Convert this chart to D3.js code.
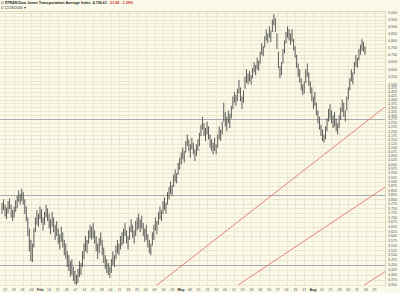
<!DOCTYPE html>
<head>
<meta charset="utf-8">
<title>$TRAN</title>
<style>
  body { margin: 0; background: #fbfaea; }
  svg { display: block; }
  .ylbl, .xlbl { font: 3.6px "Liberation Sans", Arial, sans-serif; fill: #555; }
  .xlbl.bold { font-weight: bold; fill: #222; }
  .ttl { font: bold 3.7px "Liberation Sans", Arial, sans-serif; fill: #222; }
  .ttl2 { font: 3.6px "Liberation Sans", Arial, sans-serif; fill: #333; }
  .neg { fill: #d23030; }
  .grid line { stroke: #ece8d0; stroke-width: 1; shape-rendering: crispEdges; }
  .bar { stroke: #4a4a4a; stroke-width: 0.9; }
  .level { stroke: #aaa; stroke-width: 1; shape-rendering: crispEdges; }
  .trend { stroke: #e27474; stroke-width: 0.9; fill: none; }
</style>
</head>
<body>
<script src="https://d3js.org/d3.v7.min.js"></script>
<script>

// daily bars, high and low (index points)
var highs = [
  3780,3800,3770,3755,3790,3805,3770,3740,3760,3795,
  3820,3850,3830,3860,3840,3800,3760,3700,3640,3580,
  3560,3640,3700,3740,3720,3760,3745,3700,3730,3770,
  3750,3720,3690,3730,3700,3660,3680,3640,3610,3650,
  3620,3580,3560,3520,3500,3470,3480,3440,3420,3400,
  3430,3470,3460,3520,3560,3600,3580,3630,3660,3650,
  3670,3630,3600,3560,3590,3620,3580,3540,3500,3480,
  3460,3440,3480,3520,3500,3550,3580,3560,3600,3620,
  3640,3670,3630,3600,3650,3690,3660,3630,3680,3700,
  3720,3690,3710,3670,3640,3660,3610,3580,3560,3620,
  3660,3700,3680,3730,3760,3740,3790,3810,3780,3840,
  3870,3900,3880,3940,3970,3950,4010,4040,4070,4100,
  4080,4140,4180,4150,4120,4160,4130,4090,4120,4150,
  4190,4240,4290,4250,4220,4260,4230,4180,4150,4130,
  4160,4120,4180,4230,4210,4260,4380,4320,4290,4330,
  4310,4360,4420,4450,4430,4470,4530,4480,4420,4460,
  4550,4600,4570,4590,4560,4610,4650,4630,4680,4660,
  4720,4780,4760,4830,4880,4850,4900,4870,4950,4990,
  4960,4850,4720,4620,4650,4740,4800,4860,4900,4880,
  4850,4880,4810,4760,4700,4640,4600,4540,4500,4520,
  4600,4640,4580,4520,4480,4420,4450,4380,4330,4290,
  4240,4210,4180,4230,4280,4340,4370,4330,4300,4320,
  4280,4250,4300,4350,4400,4380,4330,4420,4480,4540,
  4600,4580,4650,4700,4680,4740,4770,4810,4790,4760
];
var lows = [
  3720,3740,3705,3690,3720,3745,3700,3680,3700,3730,
  3750,3785,3770,3790,3770,3720,3680,3600,3520,3470,
  3465,3540,3620,3660,3650,3690,3670,3630,3660,3700,
  3680,3640,3610,3650,3620,3580,3600,3560,3530,3570,
  3540,3500,3480,3440,3420,3390,3400,3370,3355,3350,
  3360,3390,3400,3440,3480,3520,3510,3560,3590,3580,
  3590,3560,3520,3480,3510,3550,3500,3460,3430,3410,
  3400,3385,3410,3450,3440,3480,3510,3500,3530,3550,
  3560,3600,3560,3530,3580,3620,3590,3560,3600,3630,
  3640,3620,3640,3600,3570,3580,3540,3510,3500,3550,
  3580,3630,3610,3660,3690,3680,3720,3740,3720,3770,
  3800,3830,3820,3870,3900,3890,3940,3970,4000,4030,
  4010,4070,4110,4080,4040,4090,4060,4020,4050,4080,
  4110,4170,4210,4170,4140,4180,4150,4100,4080,4060,
  4080,4060,4100,4150,4140,4180,4260,4230,4200,4250,
  4220,4280,4340,4380,4360,4390,4440,4390,4340,4380,
  4470,4510,4500,4520,4500,4540,4580,4560,4600,4590,
  4640,4700,4690,4750,4800,4780,4820,4790,4860,4910,
  4860,4740,4610,4540,4560,4640,4710,4780,4820,4800,
  4770,4790,4730,4680,4610,4550,4510,4460,4430,4440,
  4510,4550,4490,4440,4390,4340,4360,4300,4250,4210,
  4170,4140,4130,4150,4200,4260,4280,4250,4220,4230,
  4200,4180,4220,4270,4320,4290,4260,4330,4400,4460,
  4520,4500,4570,4620,4610,4660,4700,4730,4720,4700
];

var dateLabels = ["12","19","26","03","Feb","14","21","28","07","14","21","28","04","11","18","25",
  "02","09","16","23","May","08","15","22","30","05","12","19","26","03","10","17","24","31",
  "07","Aug","14","21","28","05","11","18","25"];
var boldLabels = ["Feb","May","Aug"];

var levels = [4275, 3825, 3450];
// trend lines as [bar index, price] end points
var trendLines = [
  [[102, 3350], [252.5, 4355]],
  [[155.5, 3350], [252.5, 3870]],
  [[238.5, 3350], [252.5, 3418]]
];

var yTicks = d3.range(3350, 5001, 25);

var width = 400, height = 293,
    plotL = 0, plotR = 385, plotT = 11, plotB = 286;

var x = d3.scaleLinear().domain([0, highs.length - 1]).range([2, 365]);
var y = d3.scaleLog().domain([3350, 5000]).range([285, 12.7]);

var svg = d3.select("body").append("svg")
    .attr("width", width)
    .attr("height", height);

svg.append("rect")
    .attr("width", width).attr("height", height)
    .attr("fill", "#fbfaea");

svg.append("clipPath").attr("id", "plot")
  .append("rect")
    .attr("x", plotL).attr("y", plotT)
    .attr("width", plotR - plotL).attr("height", plotB - plotT);

// one date label roughly every 5.8 bars
var tickIdx = dateLabels.map(function(d, j) { return 1.975 + j * 5.794; });

var grid = svg.append("g").attr("class", "grid");
grid.selectAll(".h")
    .data(yTicks)
  .enter().append("line")
    .attr("x1", plotL).attr("x2", plotR)
    .attr("y1", function(d) { return Math.round(y(d)) + 0.5; })
    .attr("y2", function(d) { return Math.round(y(d)) + 0.5; });
grid.selectAll(".v")
    .data(tickIdx)
  .enter().append("line")
    .attr("y1", plotT).attr("y2", plotB)
    .attr("x1", function(d) { return Math.round(x(d)) + 0.5; })
    .attr("x2", function(d) { return Math.round(x(d)) + 0.5; });

svg.append("line")
    .attr("x1", plotL).attr("x2", plotR).attr("y1", plotT + 0.5).attr("y2", plotT + 0.5)
    .attr("stroke", "#ddd8bb");
svg.append("line")
    .attr("x1", plotR + 0.5).attr("x2", plotR + 0.5).attr("y1", plotT).attr("y2", plotB)
    .attr("stroke", "#ddd8bb");

// horizontal levels
svg.append("g").selectAll("line")
    .data(levels)
  .enter().append("line")
    .attr("class", "level")
    .attr("x1", plotL).attr("x2", plotR)
    .attr("y1", function(d) { return Math.round(y(d)) + 0.5; })
    .attr("y2", function(d) { return Math.round(y(d)) + 0.5; });

// trend lines
var tl = d3.line()
    .x(function(d) { return x(d[0]); })
    .y(function(d) { return y(d[1]); });

svg.append("g").attr("clip-path", "url(#plot)")
  .selectAll("path")
    .data(trendLines)
  .enter().append("path")
    .attr("class", "trend")
    .attr("d", tl);

// price bars
svg.append("g").attr("clip-path", "url(#plot)")
  .selectAll("line")
    .data(highs)
  .enter().append("line")
    .attr("class", "bar")
    .attr("x1", function(d, i) { return x(i); })
    .attr("x2", function(d, i) { return x(i); })
    .attr("y1", function(d) { return y(d); })
    .attr("y2", function(d, i) { return y(lows[i]); });

// right axis labels
var fmt = d3.format(",");
svg.append("g").selectAll("text")
    .data(yTicks.filter(function(d) { return d <= 4475 || d % 50 === 0; }))
  .enter().append("text")
    .attr("class", "ylbl")
    .attr("x", 388)
    .attr("y", function(d) { return y(d); })
    .attr("dy", "0.35em")
    .text(function(d) { return fmt(d); });

// date labels
svg.append("g").selectAll("text")
    .data(dateLabels)
  .enter().append("text")
    .attr("class", function(d) { return boldLabels.indexOf(d) > -1 ? "xlbl bold" : "xlbl"; })
    .attr("x", function(d, j) { return x(tickIdx[j]); })
    .attr("y", 290.5)
    .attr("text-anchor", "middle")
    .text(function(d) { return d; });

// header
svg.append("circle")
    .attr("cx", 2.5).attr("cy", 2.8).attr("r", 1.3)
    .attr("fill", "none").attr("stroke", "#666").attr("stroke-width", 0.5);

var t = svg.append("text").attr("class", "ttl").attr("x", 5).attr("y", 4.2);
t.append("tspan").text("$TRAN Dow Jones Transportation Average Index");
t.append("tspan").attr("dx", 2).text("4,726.61");
t.append("tspan").attr("dx", 2).attr("class", "neg").text("-61.68");
t.append("tspan").attr("dx", 2).attr("class", "neg").text("-1.29%");

svg.append("text").attr("class", "ttl2").attr("x", 1).attr("y", 8.7)
    .text("D  12/28/2006 \u25BE");

</script>
